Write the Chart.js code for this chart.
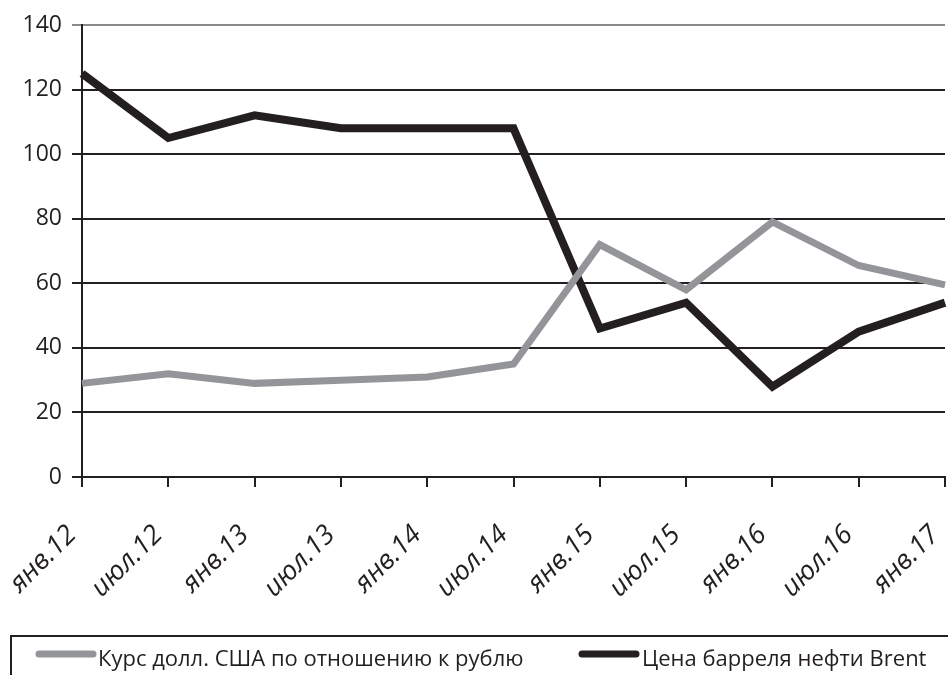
<!DOCTYPE html>
<html>
<head>
<meta charset="utf-8">
<script src="https://cdn.jsdelivr.net/npm/chart.js@4.4.0/dist/chart.umd.min.js"></script>
<style>
  html, body { margin: 0; padding: 0; background: #fff; }
  #wrap { width: 948px; height: 675px; }
</style>
</head>
<body>
<div id="wrap"><canvas id="chart"></canvas></div>
<script>
const labels = ["янв.12", "июл.12", "янв.13", "июл.13", "янв.14", "июл.14", "янв.15", "июл.15", "янв.16", "июл.16", "янв.17"];
const usdRub = [29, 32, 29, 30, 31, 35, 72, 58, 79, 65.5, 59.5];
const brent = [125, 105, 112, 108, 108, 108, 46, 54, 28, 45, 54];
const yTicks = [0, 20, 40, 60, 80, 100, 120, 140];

const ink = "#231f20";
const grey = "#939598";
const fontFamily = "'Open Sans', sans-serif";

// legend drawn by hand: boxed, items at fixed spots like the original
const boxedLegend = {
    id: "boxedLegend",
    afterDraw(chart) {
        const ctx = chart.ctx;
        ctx.save();
        ctx.strokeStyle = ink;
        ctx.lineWidth = 2;
        ctx.strokeRect(11, 636, 990, 60);

        const items = [
            {x: 36, textX: 98, ds: chart.data.datasets[0]},
            {x: 579, textX: 642, ds: chart.data.datasets[1]}
        ];
        items.forEach(it => {
            ctx.strokeStyle = it.ds.borderColor;
            ctx.lineWidth = 7;
            ctx.lineCap = "round";
            ctx.beginPath();
            ctx.moveTo(it.x + 3, 654);
            ctx.lineTo(it.x + 57, 654);
            ctx.stroke();
            ctx.fillStyle = ink;
            ctx.font = "22px " + fontFamily;
            ctx.textBaseline = "alphabetic";
            ctx.fillText(it.ds.label, it.textX, 666);
        });
        ctx.restore();
    }
};

new Chart(document.getElementById("chart"), {
    type: "line",
    data: {
        labels: labels,
        datasets: [{
            label: "Курс долл. США по отношению к рублю",
            data: usdRub,
            borderColor: grey,
            borderWidth: 7,
            pointRadius: 0,
            tension: 0
        }, {
            label: "Цена барреля нефти Brent",
            data: brent,
            borderColor: ink,
            borderWidth: 8,
            pointRadius: 0,
            tension: 0
        }]
    },
    options: {
        responsive: true,
        maintainAspectRatio: false,
        animation: false,
        layout: {padding: {top: 25, right: 3, left: 0, bottom: 38}},
        plugins: {
            legend: {display: false},
            tooltip: {enabled: false}
        },
        scales: {
            x: {
                offset: false,
                afterFit: s => {
                    s.height = 160;
                    s.paddingLeft = 0;
                    s.paddingRight = 0;
                },
                grid: {
                    drawOnChartArea: false,
                    drawTicks: true,
                    tickLength: 10,
                    color: ink,
                    lineWidth: 2
                },
                border: {color: ink, width: 2},
                ticks: {
                    minRotation: 45,
                    maxRotation: 45,
                    autoSkip: false,
                    padding: 32,
                    labelOffset: -10,
                    color: ink,
                    font: {family: fontFamily, size: 27, style: "italic"}
                }
            },
            y: {
                min: 0,
                max: 140,
                afterFit: s => { s.width = 82; },
                afterBuildTicks: s => { s.ticks = yTicks.map(v => ({value: v})); },
                grid: {
                    color: c => c.tick && c.tick.value === 140 ? "#8a8a8a" : ink,
                    lineWidth: 2,
                    tickLength: 10
                },
                border: {color: ink, width: 2},
                ticks: {
                    padding: 10,
                    color: ink,
                    font: {family: fontFamily, size: 23}
                }
            }
        }
    },
    plugins: [boxedLegend]
});
</script>
</body>
</html>
